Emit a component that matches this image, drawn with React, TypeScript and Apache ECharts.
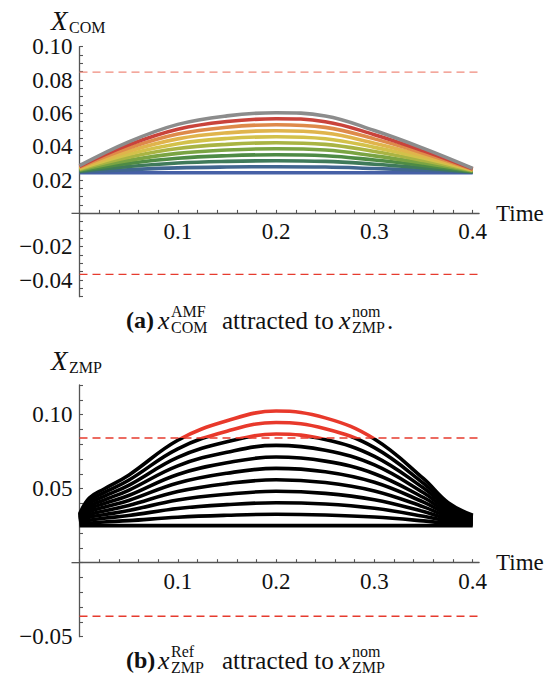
import React, { useEffect, useRef } from "react";
import * as echarts from "echarts";

// ---------- Data (panel a) ----------
const TIME_A = [0, 0.05, 0.1, 0.15, 0.2, 0.25, 0.3, 0.35, 0.4];
const COM_0 = [0.0244, 0.0244, 0.0244, 0.0244, 0.0244, 0.0244, 0.0244, 0.0244, 0.0244];
const COM_1 = [0.0248, 0.0262, 0.0273, 0.0278, 0.028, 0.0278, 0.0269, 0.0259, 0.0247];
const COM_2 = [0.0252, 0.0281, 0.0302, 0.0312, 0.0316, 0.0312, 0.0295, 0.0273, 0.0249];
const COM_3 = [0.0257, 0.03, 0.0331, 0.0346, 0.0352, 0.0346, 0.032, 0.0288, 0.0252];
const COM_4 = [0.0261, 0.0318, 0.036, 0.038, 0.0388, 0.038, 0.0345, 0.0302, 0.0254];
const COM_5 = [0.0265, 0.0337, 0.0389, 0.0414, 0.0424, 0.0414, 0.0371, 0.0317, 0.0257];
const COM_6 = [0.0269, 0.0355, 0.0418, 0.0449, 0.046, 0.0448, 0.0396, 0.0332, 0.026];
const COM_7 = [0.0273, 0.0373, 0.0447, 0.0483, 0.0496, 0.0482, 0.0421, 0.0346, 0.0262];
const COM_8 = [0.0278, 0.0392, 0.0476, 0.0517, 0.0532, 0.0516, 0.0447, 0.0361, 0.0265];
const COM_9 = [0.0282, 0.0411, 0.0505, 0.0551, 0.0568, 0.055, 0.0472, 0.0375, 0.0267];
const COM_10 = [0.0286, 0.0429, 0.0534, 0.0585, 0.0604, 0.0584, 0.0497, 0.039, 0.027];
const COM_CURVES = [COM_0, COM_1, COM_2, COM_3, COM_4, COM_5, COM_6, COM_7, COM_8, COM_9, COM_10];
const COM_COLORS = [
  "#4660a6", "#416690", "#3f7a5a", "#4e8b45", "#7aa443", "#a9b443",
  "#d3c14a", "#e0b44c", "#de8a4a", "#c9433b", "#8c8c8c",
];
const LIMIT_A_UP = 0.0847;
const LIMIT_A_LOW = -0.0366;

// ---------- Data (panel b) ----------
const TIME_B = [0, 0.01, 0.025, 0.05, 0.1, 0.15, 0.2, 0.25, 0.3, 0.35, 0.375, 0.4];
const ZMP_0 = [0.025, 0.025, 0.025, 0.025, 0.025, 0.025, 0.025, 0.025, 0.025, 0.025, 0.025, 0.025];
const ZMP_1 = [0.0258, 0.0268, 0.0275, 0.0284, 0.0307, 0.032, 0.0327, 0.0322, 0.0308, 0.0282, 0.0265, 0.0257];
const ZMP_2 = [0.0266, 0.0287, 0.03, 0.0318, 0.0366, 0.0392, 0.0405, 0.0396, 0.0367, 0.0314, 0.0281, 0.0264];
const ZMP_3 = [0.0273, 0.0306, 0.0324, 0.0352, 0.0423, 0.0462, 0.0482, 0.0468, 0.0425, 0.0345, 0.0296, 0.0271];
const ZMP_4 = [0.0281, 0.0324, 0.0349, 0.0386, 0.0481, 0.0534, 0.056, 0.0541, 0.0484, 0.0377, 0.0312, 0.0278];
const ZMP_5 = [0.0289, 0.0343, 0.0374, 0.042, 0.0538, 0.0604, 0.0637, 0.0614, 0.0543, 0.0409, 0.0327, 0.0285];
const ZMP_6 = [0.0296, 0.0361, 0.0399, 0.0454, 0.0596, 0.0675, 0.0714, 0.0686, 0.0601, 0.044, 0.0343, 0.0292];
const ZMP_7 = [0.0304, 0.038, 0.0423, 0.0489, 0.0654, 0.0746, 0.0792, 0.076, 0.066, 0.0472, 0.0358, 0.0299];
const ZMP_8 = [0.0312, 0.0399, 0.0448, 0.0522, 0.0711, 0.0816, 0.0869, 0.0832, 0.0718, 0.0504, 0.0374, 0.0306];
const ZMP_9 = [0.032, 0.0417, 0.0473, 0.0557, 0.0769, 0.0888, 0.0947, 0.0905, 0.0777, 0.0536, 0.0389, 0.0313];
const ZMP_10 = [0.0327, 0.0436, 0.0498, 0.0591, 0.0827, 0.0958, 0.1024, 0.0978, 0.0835, 0.0567, 0.0405, 0.032];
const ZMP_CURVES = [ZMP_0, ZMP_1, ZMP_2, ZMP_3, ZMP_4, ZMP_5, ZMP_6, ZMP_7, ZMP_8, ZMP_9, ZMP_10];
const LIMIT_B_UP = 0.0842;
const LIMIT_B_LOW = -0.0362;

// ---------- Axes ----------
const X_MIN = 0;
const X_MAX = 0.4065;
const X_TICK = 0.02;
const X_LABEL_STEP = 0.1;
const YA_MIN = -0.05;
const YA_MAX = 0.1;
const YA_TICK = 0.005;
const YA_LABEL_STEP = 0.02;
const YB_MIN = -0.05;
const YB_MAX = 0.12;
const YB_TICK = 0.01;
const YB_LABEL_STEP = 0.05;

const GRID_A = { left: 79.5, top: 46.7, width: 399.6, height: 250 };
const GRID_B = { left: 79.5, top: 385, width: 399.6, height: 251.7 };

const SERIF = "Liberation Serif";
const AXIS_COLOR = "#555555";

const isMultiple = (v: number, step: number) => {
  const r = v / step;
  return Math.abs(r - Math.round(r)) < 1e-6;
};
const fmt = (v: number, d: number) => (v < 0 ? "\u2212" + Math.abs(v).toFixed(d) : v.toFixed(d));
const zeroOffset = (height: number, yMin: number, yMax: number) => ((0 - yMin) / (yMax - yMin)) * height;

function makeX(grid: number, height: number, yMin: number, yMax: number) {
  // place the x axis on y = 0 via an offset from the bottom of the grid
  const offset = -zeroOffset(height, yMin, yMax);
  return {
    type: "value",
    gridIndex: grid,
    min: X_MIN,
    max: X_MAX,
    interval: X_TICK,
    position: "bottom",
    offset,
    splitLine: { show: false },
    axisLine: { show: true, onZero: false, lineStyle: { color: AXIS_COLOR, width: 1.3 } },
    axisTick: { show: true, inside: true, length: 3.5, lineStyle: { color: AXIS_COLOR, width: 1.1 } },
    axisLabel: {
      show: true,
      formatter: (v: number) => (v > 0.001 && isMultiple(v, X_LABEL_STEP) ? fmt(v, 1) : ""),
      fontFamily: SERIF,
      fontSize: 23,
      color: "#111",
      margin: 7,
      showMaxLabel: false,
      hideOverlap: false,
    },
    name: "Time",
    nameLocation: "end",
    nameGap: 17,
    nameTextStyle: { fontFamily: SERIF, fontSize: 23, color: "#111" },
  };
}

function makeY(grid: number, min: number, max: number, tick: number, labelStep: number) {
  return {
    type: "value",
    gridIndex: grid,
    min,
    max,
    interval: tick,
    position: "left",
    splitLine: { show: false },
    axisLine: { show: true, onZero: false, lineStyle: { color: AXIS_COLOR, width: 1.3 } },
    axisTick: { show: true, inside: true, length: 3.5, lineStyle: { color: AXIS_COLOR, width: 1.1 } },
    axisLabel: {
      show: true,
      formatter: (v: number) => (Math.abs(v) > 1e-6 && isMultiple(v, labelStep) ? fmt(v, 2) : ""),
      fontFamily: SERIF,
      fontSize: 23,
      color: "#111",
      margin: 7,
      hideOverlap: false,
    },
  };
}

function txt(x: number, y: number, text: string, size: number, opts: { italic?: boolean; bold?: boolean } = {}) {
  return {
    type: "text",
    x,
    y,
    silent: true,
    style: {
      text,
      fontFamily: SERIF,
      fontSize: size,
      fontStyle: opts.italic ? "italic" : "normal",
      fontWeight: opts.bold ? "bold" : "normal",
      fill: "#111",
      textAlign: "left",
      textVerticalAlign: "middle",
    },
  };
}

function axisStub(grid: { left: number; top: number; height: number }, yMin: number, yMax: number) {
  const y = grid.top + grid.height - zeroOffset(grid.height, yMin, yMax);
  return {
    type: "line",
    silent: true,
    shape: { x1: grid.left - 8, y1: y, x2: grid.left, y2: y },
    style: { stroke: AXIS_COLOR, lineWidth: 1.3 },
  };
}

export default function App() {
  const ref = useRef<HTMLDivElement>(null);
  useEffect(() => {
    if (!ref.current) return;
    const chart = echarts.init(ref.current, undefined, { renderer: "svg" });

    const series: any[] = [];
    COM_CURVES.forEach((vals, i) => {
      series.push({
        type: "line",
        xAxisIndex: 0,
        yAxisIndex: 0,
        data: TIME_A.map((t, k) => [t, vals[k]]),
        smooth: 0.4,
        showSymbol: false,
        silent: true,
        lineStyle: { color: COM_COLORS[i], width: 3.6 },
        z: 3,
      });
    });
    series.push({
      type: "line", xAxisIndex: 0, yAxisIndex: 0, showSymbol: false, silent: true,
      data: [[0, LIMIT_A_UP], [X_MAX, LIMIT_A_UP]],
      lineStyle: { color: "#ef8a7c", width: 1.3, type: [8, 5] }, z: 2,
    });
    series.push({
      type: "line", xAxisIndex: 0, yAxisIndex: 0, showSymbol: false, silent: true,
      data: [[0, LIMIT_A_LOW], [X_MAX, LIMIT_A_LOW]],
      lineStyle: { color: "#e63b2e", width: 1.3, type: [8, 5] }, z: 2,
    });
    const zmpStart = series.length;
    ZMP_CURVES.forEach((vals) => {
      series.push({
        type: "line",
        xAxisIndex: 1,
        yAxisIndex: 1,
        data: TIME_B.map((t, k) => [t, vals[k]]),
        smooth: 0.4,
        showSymbol: false,
        silent: true,
        lineStyle: { width: 3.6 },
        z: 3,
      });
    });
    const zmpIdx = ZMP_CURVES.map((_, i) => zmpStart + i);
    series.push({
      type: "line", xAxisIndex: 1, yAxisIndex: 1, showSymbol: false, silent: true,
      data: [[0, LIMIT_B_UP], [X_MAX, LIMIT_B_UP]],
      lineStyle: { color: "#e63b2e", width: 1.3, type: [8, 5] }, z: 4,
    });
    series.push({
      type: "line", xAxisIndex: 1, yAxisIndex: 1, showSymbol: false, silent: true,
      data: [[0, LIMIT_B_LOW], [X_MAX, LIMIT_B_LOW]],
      lineStyle: { color: "#e63b2e", width: 1.3, type: [8, 5] }, z: 2,
    });

    const caption = (y: number, tag: string, sup1: string, sub1: string, dot: boolean) => [
      txt(126, y, tag, 24, { bold: true }),
      txt(158, y, "x", 26, { italic: true }),
      txt(171, y - 9, sup1, 16),
      txt(171, y + 7, sub1, 16),
      txt(222, y, "attracted to", 25),
      txt(339, y, "x", 26, { italic: true }),
      txt(352, y - 9, "nom", 16),
      txt(352, y + 7, "ZMP", 16),
      ...(dot ? [txt(387, y, ".", 25)] : []),
    ];

    chart.setOption({
      animation: false,
      backgroundColor: "#ffffff",
      textStyle: { fontFamily: SERIF },
      grid: [GRID_A, GRID_B],
      xAxis: [makeX(0, GRID_A.height, YA_MIN, YA_MAX), makeX(1, GRID_B.height, YB_MIN, YB_MAX)],
      yAxis: [
        makeY(0, YA_MIN, YA_MAX, YA_TICK, YA_LABEL_STEP),
        makeY(1, YB_MIN, YB_MAX, YB_TICK, YB_LABEL_STEP),
      ],
      visualMap: [
        {
          type: "piecewise",
          show: false,
          dimension: 1,
          seriesIndex: zmpIdx,
          pieces: [
            { gte: -1, lte: LIMIT_B_UP, color: "#000000" },
            { gt: LIMIT_B_UP, lte: 1, color: "#e8392b" },
          ],
        },
      ],
      series,
      graphic: [
        axisStub(GRID_A, YA_MIN, YA_MAX),
        axisStub(GRID_B, YB_MIN, YB_MAX),
        txt(51, 21, "X", 27, { italic: true }),
        txt(69, 27, "COM", 16),
        txt(51, 361, "X", 27, { italic: true }),
        txt(69, 367, "ZMP", 16),
        ...caption(320, "(a)", "AMF", "COM", true),
        ...caption(660, "(b)", "Ref", "ZMP", false),
      ],
    });
    return () => chart.dispose();
  }, []);
  return (
    <div
      ref={ref}
      style={{ position: "fixed", left: 0, top: 0, width: 555, height: 689, background: "#fff" }}
    />
  );
}
